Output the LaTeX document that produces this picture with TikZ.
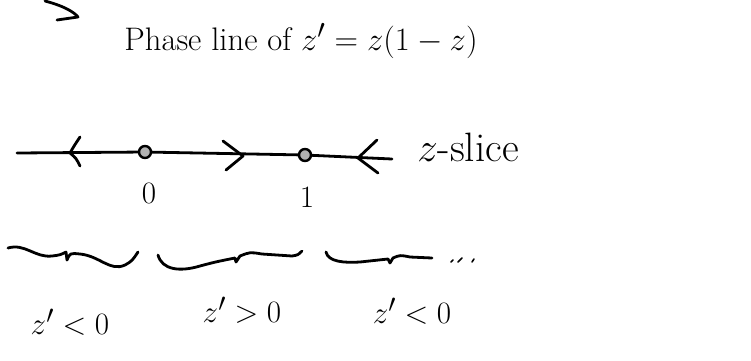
\documentclass[tikz,border=0pt]{standalone}
\begin{document}
\begin{tikzpicture}[x=1pt,y=-1pt,
  ink/.style={line width=2.8pt,line cap=round,line join=round},
  lbl/.style={inner sep=0pt,font=\Huge,scale=1.25},
  ttl/.style={inner sep=0pt,font=\Huge,scale=1.31},
  slc/.style={inner sep=0pt,font=\Huge,scale=1.65},
  eq/.style={circle,draw,line width=2.4pt,fill=gray!60,minimum size=12pt,inner sep=0pt}]
\useasboundingbox (0,0) rectangle (751,360);
% hook stroke at top left
\draw[ink] (45,1) .. controls (64,6) and (74,12) .. (78,17) -- (57,20);
% title
\node[ttl] (title) at (301,41) {Phase line of $z'=z(1-z)$};
% phase line
\coordinate (L) at (17,153);
\node[eq] (d0) at (145,152) {};
\node[eq] (d1) at (305,155) {};
\coordinate (R) at (392,159);
\draw[ink] (L) -- (d0) -- (d1) -- (R);
% arrow chevrons
\draw[ink] (80,137) .. controls (74,146) .. (70,153) .. controls (76,158) .. (80,166);
\draw[ink] (223,141) -- (243,156) -- (226,170);
\draw[ink] (377,140) -- (358,158) -- (378,173);
% labels on the line
\node[slc] (zs) at (468,147) {$z$-slice};
\node[lbl] (n0) at (149,193) {$0$};
\node[lbl] (n1) at (307,197) {$1$};
% braces
\draw[ink] (8,248) .. controls (25,243) and (35,258) .. (52,256) .. controls (60,255) .. (66,252) -- (67,260) .. controls (70,253) .. (80,254) .. controls (100,256) and (110,272) .. (125,265) .. controls (132,261) .. (138,252);
\draw[ink] (158,255) .. controls (162,270) and (180,272) .. (200,266) .. controls (215,262) .. (235,258) -- (236,262) -- (240,256) .. controls (250,252) .. (262,254) -- (292,256) .. controls (298,255) .. (302,251);
\draw[ink] (326,252) .. controls (328,262) and (345,263) .. (360,262) -- (388,259) -- (390,263) -- (393,258) .. controls (400,255) .. (410,257) -- (432,258);
\draw[line width=1.6pt,line cap=round] (451,262) -- (453,260) (458,262) -- (462,258) (472,262) -- (474,259);
% region labels
\node[lbl] (neg1) at (70,322) {$z'<0$};
\node[lbl] (pos) at (242,310) {$z'>0$};
\node[lbl] (neg2) at (412,311) {$z'<0$};
\end{tikzpicture}
\end{document}
